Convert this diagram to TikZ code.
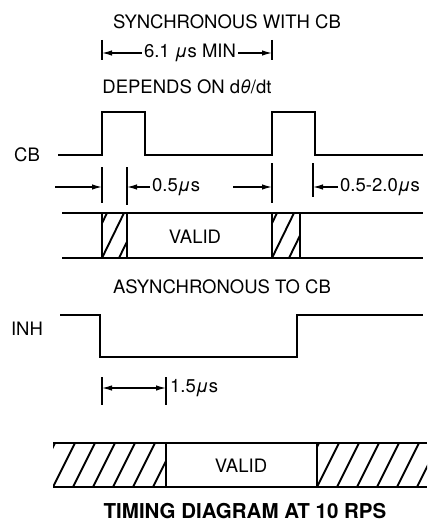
\documentclass[tikz,border=0pt]{standalone}
\usepackage{fontspec}
\setmainfont{TeX Gyre Heros}
\usetikzlibrary{arrows.meta}
\newcommand\myhatch[5]{% x1,x2,ytop,ybot,spacing
  \begin{scope}
    \clip (#1,#3) rectangle (#2,#4);
    \foreach \i in {-3,...,10}{
      \draw[hatchline] ({#1+\i*#5},#4) -- ++(22,{-(#4-#3)});
    }
  \end{scope}}
\begin{document}
\begin{tikzpicture}[x=1pt,y=-1pt,
  wave/.style={line width=2.4pt, line join=miter},
  busline/.style={line width=2.4pt},
  tickline/.style={line width=1.3pt},
  dimarrow/.style={line width=1.3pt, -{Latex[length=10pt,width=5.5pt]}},
  lbl/.style={font=\fontsize{18.5}{22}\selectfont, inner sep=0pt},
  dimlbl/.style={font=\fontsize{18.5}{22}\selectfont, inner sep=2pt},
  hatchline/.style={line width=1.9pt}]
\useasboundingbox (0,0) rectangle (438,524);

% ---------- top headings
\node[lbl] (sync) at (227,22) {SYNCHRONOUS WITH CB};
\coordinate (t1a) at (102,40); \coordinate (t1b) at (102,60);
\coordinate (t2a) at (272,40); \coordinate (t2b) at (272,60);
\draw[tickline] (t1a) -- (t1b);
\draw[tickline] (t2a) -- (t2b);
\node[dimlbl] (d61) at (190,53) {6.1 \textit{μ}s MIN};
\coordinate (d61l) at (102,53); \coordinate (d61r) at (272,53);
\draw[dimarrow] (d61.west) -- (d61l);
\draw[dimarrow] (d61.east) -- (d61r);
\node[lbl] (dep) at (187,87) {DEPENDS ON d\textit{θ}/dt};

% ---------- CB waveform
\node[lbl] (cb) at (27,155) {CB};
\draw[wave] (58,155) -- (102,155) -- (102,112) -- (145,112) -- (145,155)
  -- (272,155) -- (272,112) -- (315,112) -- (315,155) -- (423,155);

% ---------- timing ticks under CB
\draw[tickline] (102,167) -- (102,203);
\draw[tickline] (127,167) -- (127,205);
\draw[tickline] (272,163) -- (272,203);
\draw[tickline] (313,163) -- (313,197);
\coordinate (a1s) at (55,187); \coordinate (a1e) at (102,187);
\draw[dimarrow] (a1s) -- (a1e);
\node[dimlbl, anchor=west] (d05) at (150,187) {0.5\textit{μ}s};
\coordinate (a2e) at (127,187);
\draw[dimarrow] (d05.west) -- (a2e);
\coordinate (a3s) at (233,187); \coordinate (a3e) at (272,187);
\draw[dimarrow] (a3s) -- (a3e);
\node[dimlbl, anchor=west] (d052) at (338,187) {0.5-2.0\textit{μ}s};
\coordinate (a4e) at (313,187);
\draw[dimarrow] (d052.west) -- (a4e);

% ---------- first data bus
\myhatch{102}{127}{213}{258}{17}
\myhatch{272}{300}{213}{258}{17}
\draw[busline] (62,213) -- (423,213);
\draw[busline] (62,258) -- (423,258);
\draw[busline] (102,213) -- (102,258);
\draw[busline] (127,213) -- (127,258);
\draw[busline] (272,213) -- (272,258);
\draw[busline] (300,213) -- (300,258);
\node[lbl] (valid1) at (195,237) {VALID};

% ---------- INH
\node[lbl] (async) at (222,287) {ASYNCHRONOUS TO CB};
\node[lbl] (inh) at (27,329) {INH};
\draw[wave] (60,315) -- (100,315) -- (100,357) -- (297,357) -- (297,315) -- (423,315);
\draw[tickline] (102,377) -- (102,405);
\draw[tickline] (166,377) -- (166,405);
\coordinate (m15) at (134,388);
\coordinate (l15) at (102,388); \coordinate (r15) at (166,388);
\draw[dimarrow] (m15) -- (l15);
\draw[dimarrow] (m15) -- (r15);
\node[dimlbl, anchor=west] (d15) at (168,388) {1.5\textit{μ}s};

% ---------- second data bus
\myhatch{53}{166}{443}{487}{20}
\myhatch{317}{427}{443}{487}{20}
\draw[busline] (53,443) -- (427,443);
\draw[busline] (53,487) -- (427,487);
\draw[busline] (166,443) -- (166,487);
\draw[busline] (317,443) -- (317,487);
\node[lbl] (valid2) at (241,466) {VALID};

% ---------- title
\node[font=\bfseries\fontsize{20.5}{24}\selectfont, inner sep=0pt] (title) at (245,511) {TIMING DIAGRAM AT 10 RPS};
\end{tikzpicture}
\end{document}
